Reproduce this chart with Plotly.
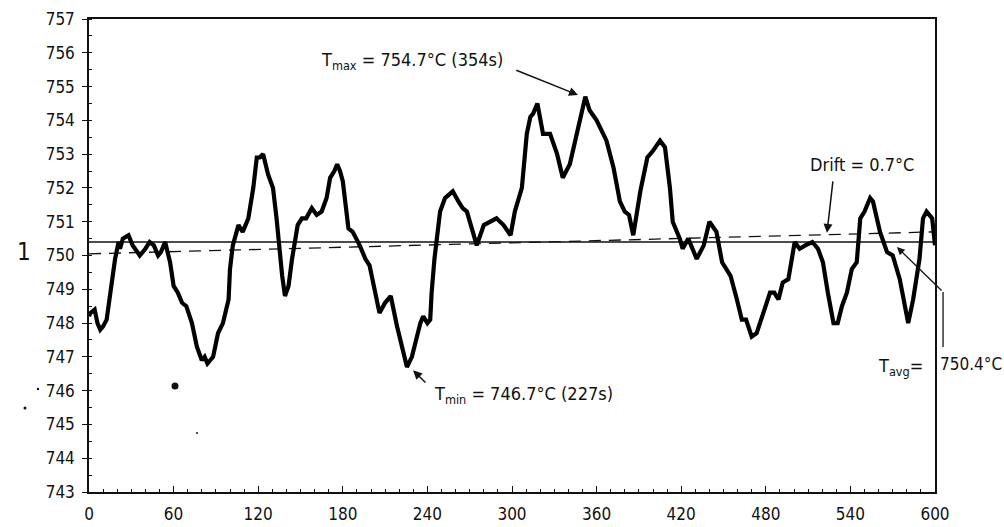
import plotly.graph_objects as go

# ---- data ----
time_s = [0, 1, 4, 6, 8, 10, 12.5, 16, 18.5, 21, 22, 24, 28, 31, 34, 36, 40, 43, 46, 49, 51, 54,
          57.5, 60, 63, 66, 69, 73, 76.5, 80, 82, 84, 86, 88, 91.5, 95, 99, 100, 102, 106, 109,
          113, 116.5, 119, 121, 123.5, 127, 130.5, 133, 135.5, 137, 139, 141.5, 144, 145, 148,
          151, 154, 158, 161.5, 165, 168.5, 171, 174, 176, 178, 180, 184, 187, 192, 196, 199,
          201, 206, 210, 214, 218.5, 222, 225.5, 229, 232.5, 235, 237, 240, 242, 243, 245, 249,
          252.5, 258, 262, 265, 268, 275, 280, 284, 289, 294, 299, 302, 307, 310.5, 313, 315,
          318, 322, 327, 332, 336, 341, 346, 352, 355, 360, 367, 372, 376.5, 380, 383, 386, 391,
          396, 400, 405, 408.5, 412, 414, 419, 421, 425, 431, 436, 440, 445, 449, 455, 459.5,
          463, 466, 470, 473.5, 478, 483, 486, 489, 492, 496, 500.5, 504, 508, 513, 517, 520.5,
          524, 528, 531, 534, 537.5, 541, 544.5, 547, 550, 554, 556, 561, 566, 570, 575, 581,
          584.5, 589, 591.5, 594, 598, 600]
temp_c = [748.2, 748.3, 748.4, 748.0, 747.8, 747.9, 748.1, 749.1, 749.9, 750.4, 750.2, 750.5,
          750.6, 750.3, 750.1, 750.0, 750.2, 750.4, 750.3, 750.0, 750.1, 750.4, 749.8, 749.1,
          748.9, 748.6, 748.5, 748.0, 747.3, 746.9, 747.0, 746.8, 746.9, 747.0, 747.7, 748.0,
          748.7, 749.6, 750.3, 750.9, 750.7, 751.1, 752.0, 752.9, 752.9, 753.0, 752.4, 752.0,
          751.1, 749.9, 749.4, 748.8, 749.1, 749.9, 750.2, 750.9, 751.1, 751.1, 751.4, 751.2,
          751.3, 751.7, 752.3, 752.5, 752.7, 752.5, 752.2, 750.8, 750.7, 750.3, 749.9, 749.7,
          749.3, 748.3, 748.6, 748.8, 747.9, 747.3, 746.7, 747.0, 747.6, 748.0, 748.2, 748.0,
          748.1, 748.9, 749.9, 751.3, 751.7, 751.9, 751.6, 751.4, 751.3, 750.3, 750.9, 751.0,
          751.1, 750.9, 750.6, 751.3, 752.0, 753.6, 754.1, 754.2, 754.5, 753.6, 753.6, 753.0,
          752.3, 752.7, 753.6, 754.7, 754.3, 754.0, 753.4, 752.6, 751.6, 751.3, 751.2, 750.6,
          751.9, 752.9, 753.1, 753.4, 753.2, 752.0, 751.0, 750.5, 750.2, 750.5, 749.9, 750.3,
          751.0, 750.7, 749.8, 749.4, 748.7, 748.1, 748.1, 747.6, 747.7, 748.3, 748.9, 748.9,
          748.7, 749.2, 749.3, 750.4, 750.2, 750.3, 750.4, 750.2, 749.8, 748.9, 748.0, 748.0,
          748.5, 748.9, 749.6, 749.8, 751.1, 751.3, 751.7, 751.6, 750.7, 750.1, 750.0, 749.3,
          748.0, 748.7, 749.9, 751.1, 751.3, 751.1, 750.3]

avg_t = [0, 600]
avg_T = [750.4, 750.4]
drift_t = [0, 600]
drift_T = [750.05, 750.7]

x_ticks = [0, 60, 120, 180, 240, 300, 360, 420, 480, 540, 600]
y_ticks = list(range(743, 758))

FONT = "DejaVu Sans Condensed, DejaVu Sans, sans-serif"
INK = "#111111"

fig = go.Figure()
fig.add_trace(go.Scatter(x=avg_t, y=avg_T, mode="lines",
                         line=dict(color=INK, width=1.3), hoverinfo="skip"))
fig.add_trace(go.Scatter(x=drift_t, y=drift_T, mode="lines",
                         line=dict(color=INK, width=1.3, dash="12px,8px"), hoverinfo="skip"))
fig.add_trace(go.Scatter(x=time_s, y=temp_c, mode="lines",
                         line=dict(color="#000000", width=4.2)))

ann_font = dict(family=FONT, size=18, color=INK)
fig.add_annotation(x=295, y=755.76, xref="x", yref="y", xanchor="right", yanchor="middle",
                   text="T<sub>max</sub> = 754.7°C (354s)", showarrow=False, font=ann_font)
fig.add_annotation(x=346.8, y=754.75, ax=302, ay=755.5, xref="x", yref="y",
                   axref="x", ayref="y", text="", showarrow=True, arrowhead=2,
                   arrowsize=1.2, arrowwidth=1.5, arrowcolor=INK)
fig.add_annotation(x=243.3, y=745.88, xref="x", yref="y", xanchor="left", yanchor="middle",
                   text="T<sub>min</sub> = 746.7°C (227s)", showarrow=False, font=ann_font)
fig.add_annotation(x=229.8, y=746.6, ax=239.7, ay=746.2, xref="x", yref="y",
                   axref="x", ayref="y", text="", showarrow=True, arrowhead=2,
                   arrowsize=1.2, arrowwidth=1.5, arrowcolor=INK)
fig.add_annotation(x=510, y=752.68, xref="x", yref="y", xanchor="left", yanchor="middle",
                   text="Drift = 0.7°C", showarrow=False, font=ann_font)
fig.add_annotation(x=523.4, y=750.67, ax=527.7, ay=752.24, xref="x", yref="y",
                   axref="x", ayref="y", text="", showarrow=True, arrowhead=2,
                   arrowsize=1.2, arrowwidth=1.5, arrowcolor=INK)
fig.add_annotation(x=592.9, y=746.7, xref="x", yref="y", xanchor="right", yanchor="middle",
                   text="T<sub>avg</sub>=", showarrow=False, font=ann_font)
fig.add_annotation(x=1.0035, y=746.8, xref="paper", yref="y", xanchor="left", yanchor="middle",
                   text="750.4°C", showarrow=False,
                   font=dict(family=FONT, size=17, color=INK))
fig.add_annotation(x=573, y=750.25, ax=605.7, ay=748.92, xref="x", yref="y",
                   axref="x", ayref="y", text="", showarrow=True, arrowhead=2,
                   arrowsize=1.2, arrowwidth=1.3, arrowcolor=INK)
fig.add_shape(type="line", xref="paper", yref="paper", x0=1.0095, x1=1.0095,
              y0=0.4228, y1=0.3066, line=dict(color=INK, width=1.3))
# stray page mark "1" on the left
fig.add_annotation(x=-0.0875, y=0.507, xref="paper", yref="paper", text="1",
                   showarrow=False, font=dict(family=FONT, size=24, color=INK))
# scan specks
for (px, py, r) in [(175, 386, 3.5), (38, 389, 1.2), (25, 408, 1.5), (197, 433, 1.0)]:
    cx = (px - 89) / 846
    cy = (492 - py) / 473
    fig.add_shape(type="circle", xref="paper", yref="paper",
                  x0=cx - r / 846, x1=cx + r / 846, y0=cy - r / 473, y1=cy + r / 473,
                  fillcolor=INK, line=dict(width=0))

fig.update_layout(
    width=1004, height=527,
    margin=dict(l=89, r=69, t=19, b=35, autoexpand=False),
    paper_bgcolor="white", plot_bgcolor="white",
    showlegend=False,
    font=dict(family=FONT, size=17, color=INK),
)
fig.update_xaxes(range=[0, 600], tickvals=x_ticks, ticktext=[str(v) for v in x_ticks],
                 automargin=False,
                 showgrid=False, zeroline=False, showline=True, linecolor=INK, linewidth=1.5,
                 mirror=True, ticks="inside", ticklen=6, tickwidth=1.3, tickcolor=INK,
                 ticklabelstandoff=6,
                 minor=dict(dtick=10, ticks="inside", ticklen=3, tickwidth=1.2, tickcolor=INK))
fig.update_yaxes(range=[743, 757], tickvals=y_ticks, ticktext=[str(v) for v in y_ticks],
                 automargin=False,
                 showgrid=False, zeroline=False, showline=True, linecolor=INK, linewidth=1.5,
                 mirror=True, ticks="outside", ticklen=5, tickwidth=1.3, tickcolor=INK,
                 ticklabelstandoff=4,
                 minor=dict(dtick=0.5, ticks="inside", ticklen=3, tickwidth=1.2, tickcolor=INK))

fig.write_html("out.html", config={"displayModeBar": False},
               post_script="document.body.style.margin='0';document.body.style.overflow='hidden';")
